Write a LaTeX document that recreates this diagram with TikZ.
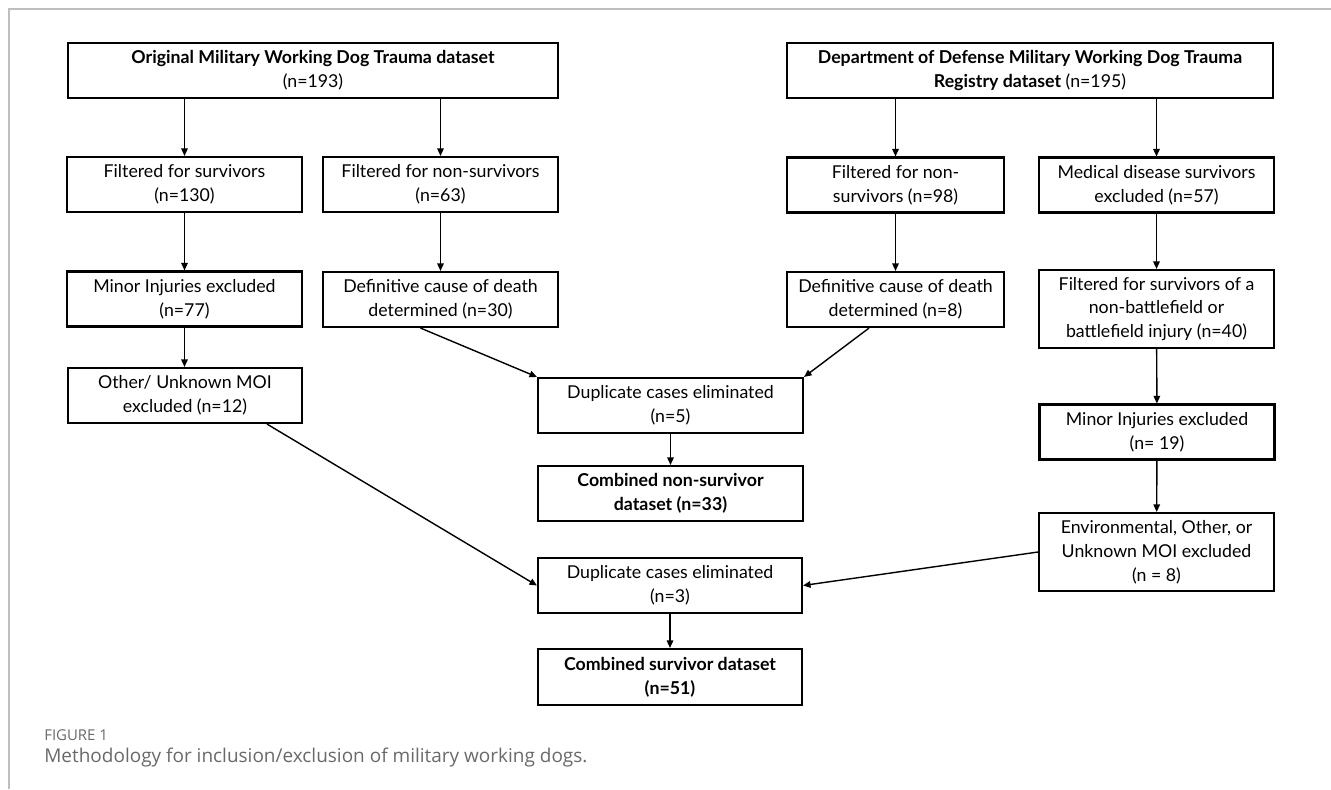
\documentclass[tikz,border=0pt]{standalone}
\usepackage{fontspec}
\setmainfont{Lato}
\newfontfamily\capfont{Open Sans}
\usetikzlibrary{arrows.meta, positioning}
\definecolor{framegray}{RGB}{190, 190, 190}
\definecolor{captiongray}{RGB}{105, 105, 105}
\tikzset{
  box/.style={rectangle, draw=black, line width=1.2pt, fill=white, align=center,
              inner sep=1pt, minimum height=1.1cm, minimum width=4.7cm,
              font=\fontsize{10.1}{13.6}\selectfont},
  tallbox/.style={box, minimum height=1.56cm},
  widebox/.style={box, minimum width=5.3cm},
  flow/.style={-{Triangle[length=1.5mm, width=1.3mm]}, line width=0.8pt},
}
\begin{document}
\begin{tikzpicture}[x=0.02cm, y=-0.02cm]
    \useasboundingbox (0,0) rectangle (1331,789);
    \draw[framegray, line width=0.7pt] (9,789) -- (9,9) -- (1331,9);

    % two source datasets
    \node[box, minimum width=9.8cm] (orig) at (313,70.5)
        {\textbf{Original Military Working Dog Trauma dataset}\\ (n=193)};
    \node[box, minimum width=9.72cm] (dod) at (1030,70.5)
        {\textbf{Department of Defense Military Working Dog Trauma}\\ \textbf{Registry dataset} (n=195)};

    % first filters
    \node[box] (fsurv) at (184.5,184.5) {Filtered for survivors\\ (n=130)};
    \node[box] (fnon63) at (440.5,184.5) {Filtered for non-survivors\\ (n=63)};
    \node[box, minimum width=4.34cm] (fnon98) at (895.5,185) {Filtered for non-\\ survivors (n=98)};
    \node[box] (med57) at (1156.5,185) {Medical disease survivors\\ excluded (n=57)};

    % second filters
    \node[box] (minor77) at (184.5,299) {Minor Injuries excluded\\ (n=77)};
    \node[box] (def30) at (440.5,299.5) {Definitive cause of death\\ determined (n=30)};
    \node[box, minimum width=4.34cm] (def8) at (895.5,299.5) {Definitive cause of death\\ determined (n=8)};
    \node[tallbox] (f40) at (1156.5,309)
        {Filtered for survivors of a\\ non-battlefield or\\ battlefield injury (n=40)};

    \node[box, minimum width=4.68cm] (other12) at (185,395.5) {Other/ Unknown MOI\\ excluded (n=12)};
    \node[box] (minor19) at (1157,432) {Minor Injuries excluded\\ (n= 19)};
    \node[tallbox] (env8) at (1156.5,552)
        {Environmental, Other, or\\ Unknown MOI excluded\\ (n = 8)};

    % merged results
    \node[widebox] (dup5) at (670.5,405.5) {Duplicate cases eliminated\\ (n=5)};
    \node[widebox] (combns) at (670.5,493.5) {\textbf{Combined non-survivor}\\ \textbf{dataset (n=33)}};
    \node[widebox, minimum width=5.28cm] (dup3) at (670,585.5) {Duplicate cases eliminated\\ (n=3)};
    \node[widebox, minimum width=5.28cm, minimum height=1.12cm] (combs) at (670,677)
        {\textbf{Combined survivor dataset}\\ \textbf{(n=51)}};

    \draw[flow] (orig.south -| fsurv.north) -- (fsurv.north);
    \draw[flow] (orig.south -| fnon63.north) -- (fnon63.north);
    \draw[flow] (dod.south -| fnon98.north) -- (fnon98.north);
    \draw[flow] (dod.south -| med57.north) -- (med57.north);

    \draw[flow] (fsurv) -- (minor77);
    \draw[flow] (minor77) -- (other12.north -| minor77.south);
    \draw[flow] (fnon63) -- (def30);
    \draw[flow] (fnon98) -- (def8);
    \draw[flow] (med57) -- (f40);
    \draw[flow] (f40) -- (minor19);
    \draw[flow] (minor19) -- (env8);

    \draw[flow] ([xshift=-0.4cm]def30.south) -- (dup5.north west);
    \draw[flow] ([xshift=-0.53cm]def8.south) -- (dup5.north east);
    \draw[flow] (dup5) -- (combns);
    \draw[flow] ([xshift=1.64cm]other12.south) -- (dup3.west);
    \draw[flow] (env8.west) -- (dup3.east);
    \draw[flow] (dup3) -- (combs);

    % caption
    \node[anchor=west, inner sep=0pt, text=captiongray, font=\capfont\fontsize{8.5}{10}\selectfont]
        (figlabel) at (44,735) {FIGURE 1};
    \node[anchor=west, inner sep=0pt, text=captiongray, font=\capfont\fontsize{10.8}{13}\selectfont]
        (figcaption) at (44,758) {Methodology for inclusion/exclusion of military working dogs.};
\end{tikzpicture}
\end{document}
